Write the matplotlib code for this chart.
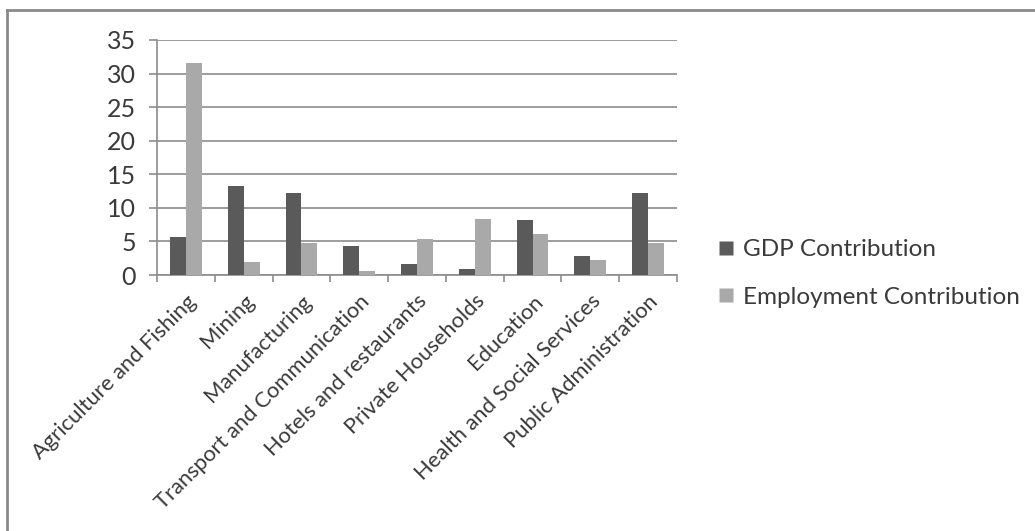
import numpy as np
import matplotlib
matplotlib.use("Agg")
import matplotlib.pyplot as plt
from matplotlib.lines import Line2D

sectors = ["Agriculture and Fishing", "Mining", "Manufacturing",
           "Transport and Communication", "Hotels and restaurants",
           "Private Households", "Education", "Health and Social Services",
           "Public Administration"]
gdp = [5.7, 13.2, 12.2, 4.3, 1.6, 0.85, 8.2, 2.9, 12.2]
employment = [31.5, 1.9, 4.8, 0.65, 5.4, 8.3, 6.1, 2.3, 4.7]
yticks = [0, 5, 10, 15, 20, 25, 30, 35]

DARK = "#5a5a5a"
LIGHT = "#a9a9a9"
TXT = "#3a3a3a"
plt.rcParams["font.family"] = ["Lato", "DejaVu Sans"]

fig = plt.figure(figsize=(10.35, 5.31), dpi=100)
ax = fig.add_axes([0.1517, 0.4821, 0.5024, 0.4426])

x = np.arange(len(sectors))
w = 0.275
ax.bar(x - w / 2, gdp, w, color=DARK, label="GDP Contribution", zorder=3)
ax.bar(x + w / 2, employment, w, color=LIGHT, label="Employment Contribution", zorder=3)

ax.set_xlim(-0.5, len(sectors) - 0.5)
ax.set_ylim(0, 35)
ax.set_yticks(yticks)
ax.set_yticklabels([str(v) for v in yticks], fontsize=18, color=TXT)
ax.yaxis.grid(True, color="#8c8c8c", linewidth=1.2, zorder=0)
ax.set_axisbelow(True)

ax.set_xticks(np.arange(len(sectors) + 1) - 0.5)
ax.set_xticklabels([])
ax.tick_params(axis="x", direction="out", length=5, color="#8c8c8c", width=1.2)
ax.tick_params(axis="y", length=6, color="#8c8c8c", width=1.2, pad=9)
for i, name in enumerate(sectors):
    ax.text(i, -2.4, name, rotation=45, ha="right", va="top",
            rotation_mode="anchor", fontsize=15.8, color=TXT)

for s in ["top", "right"]:
    ax.spines[s].set_visible(False)
for s in ["left", "bottom"]:
    ax.spines[s].set_color("#8c8c8c")
    ax.spines[s].set_linewidth(1.2)

handles = [Line2D([0], [0], marker="s", color="none", markerfacecolor=DARK,
                  markeredgecolor="none", markersize=10),
           Line2D([0], [0], marker="s", color="none", markerfacecolor=LIGHT,
                  markeredgecolor="none", markersize=10)]
fig.legend(handles, ["GDP Contribution", "Employment Contribution"],
           loc="center left", bbox_to_anchor=(0.671, 0.485), frameon=False,
           fontsize=17.5, labelcolor=TXT, handlelength=0.8, handletextpad=0.3,
           labelspacing=1.1)

# chart frame
fig.add_artist(Line2D([0.007, 0.007], [0.0, 0.981], color="#8a8a8a", linewidth=2,
                      transform=fig.transFigure))
fig.add_artist(Line2D([0.007, 1.0], [0.981, 0.981], color="#8a8a8a", linewidth=2,
                      transform=fig.transFigure))

fig.savefig("out.png", dpi=100)
